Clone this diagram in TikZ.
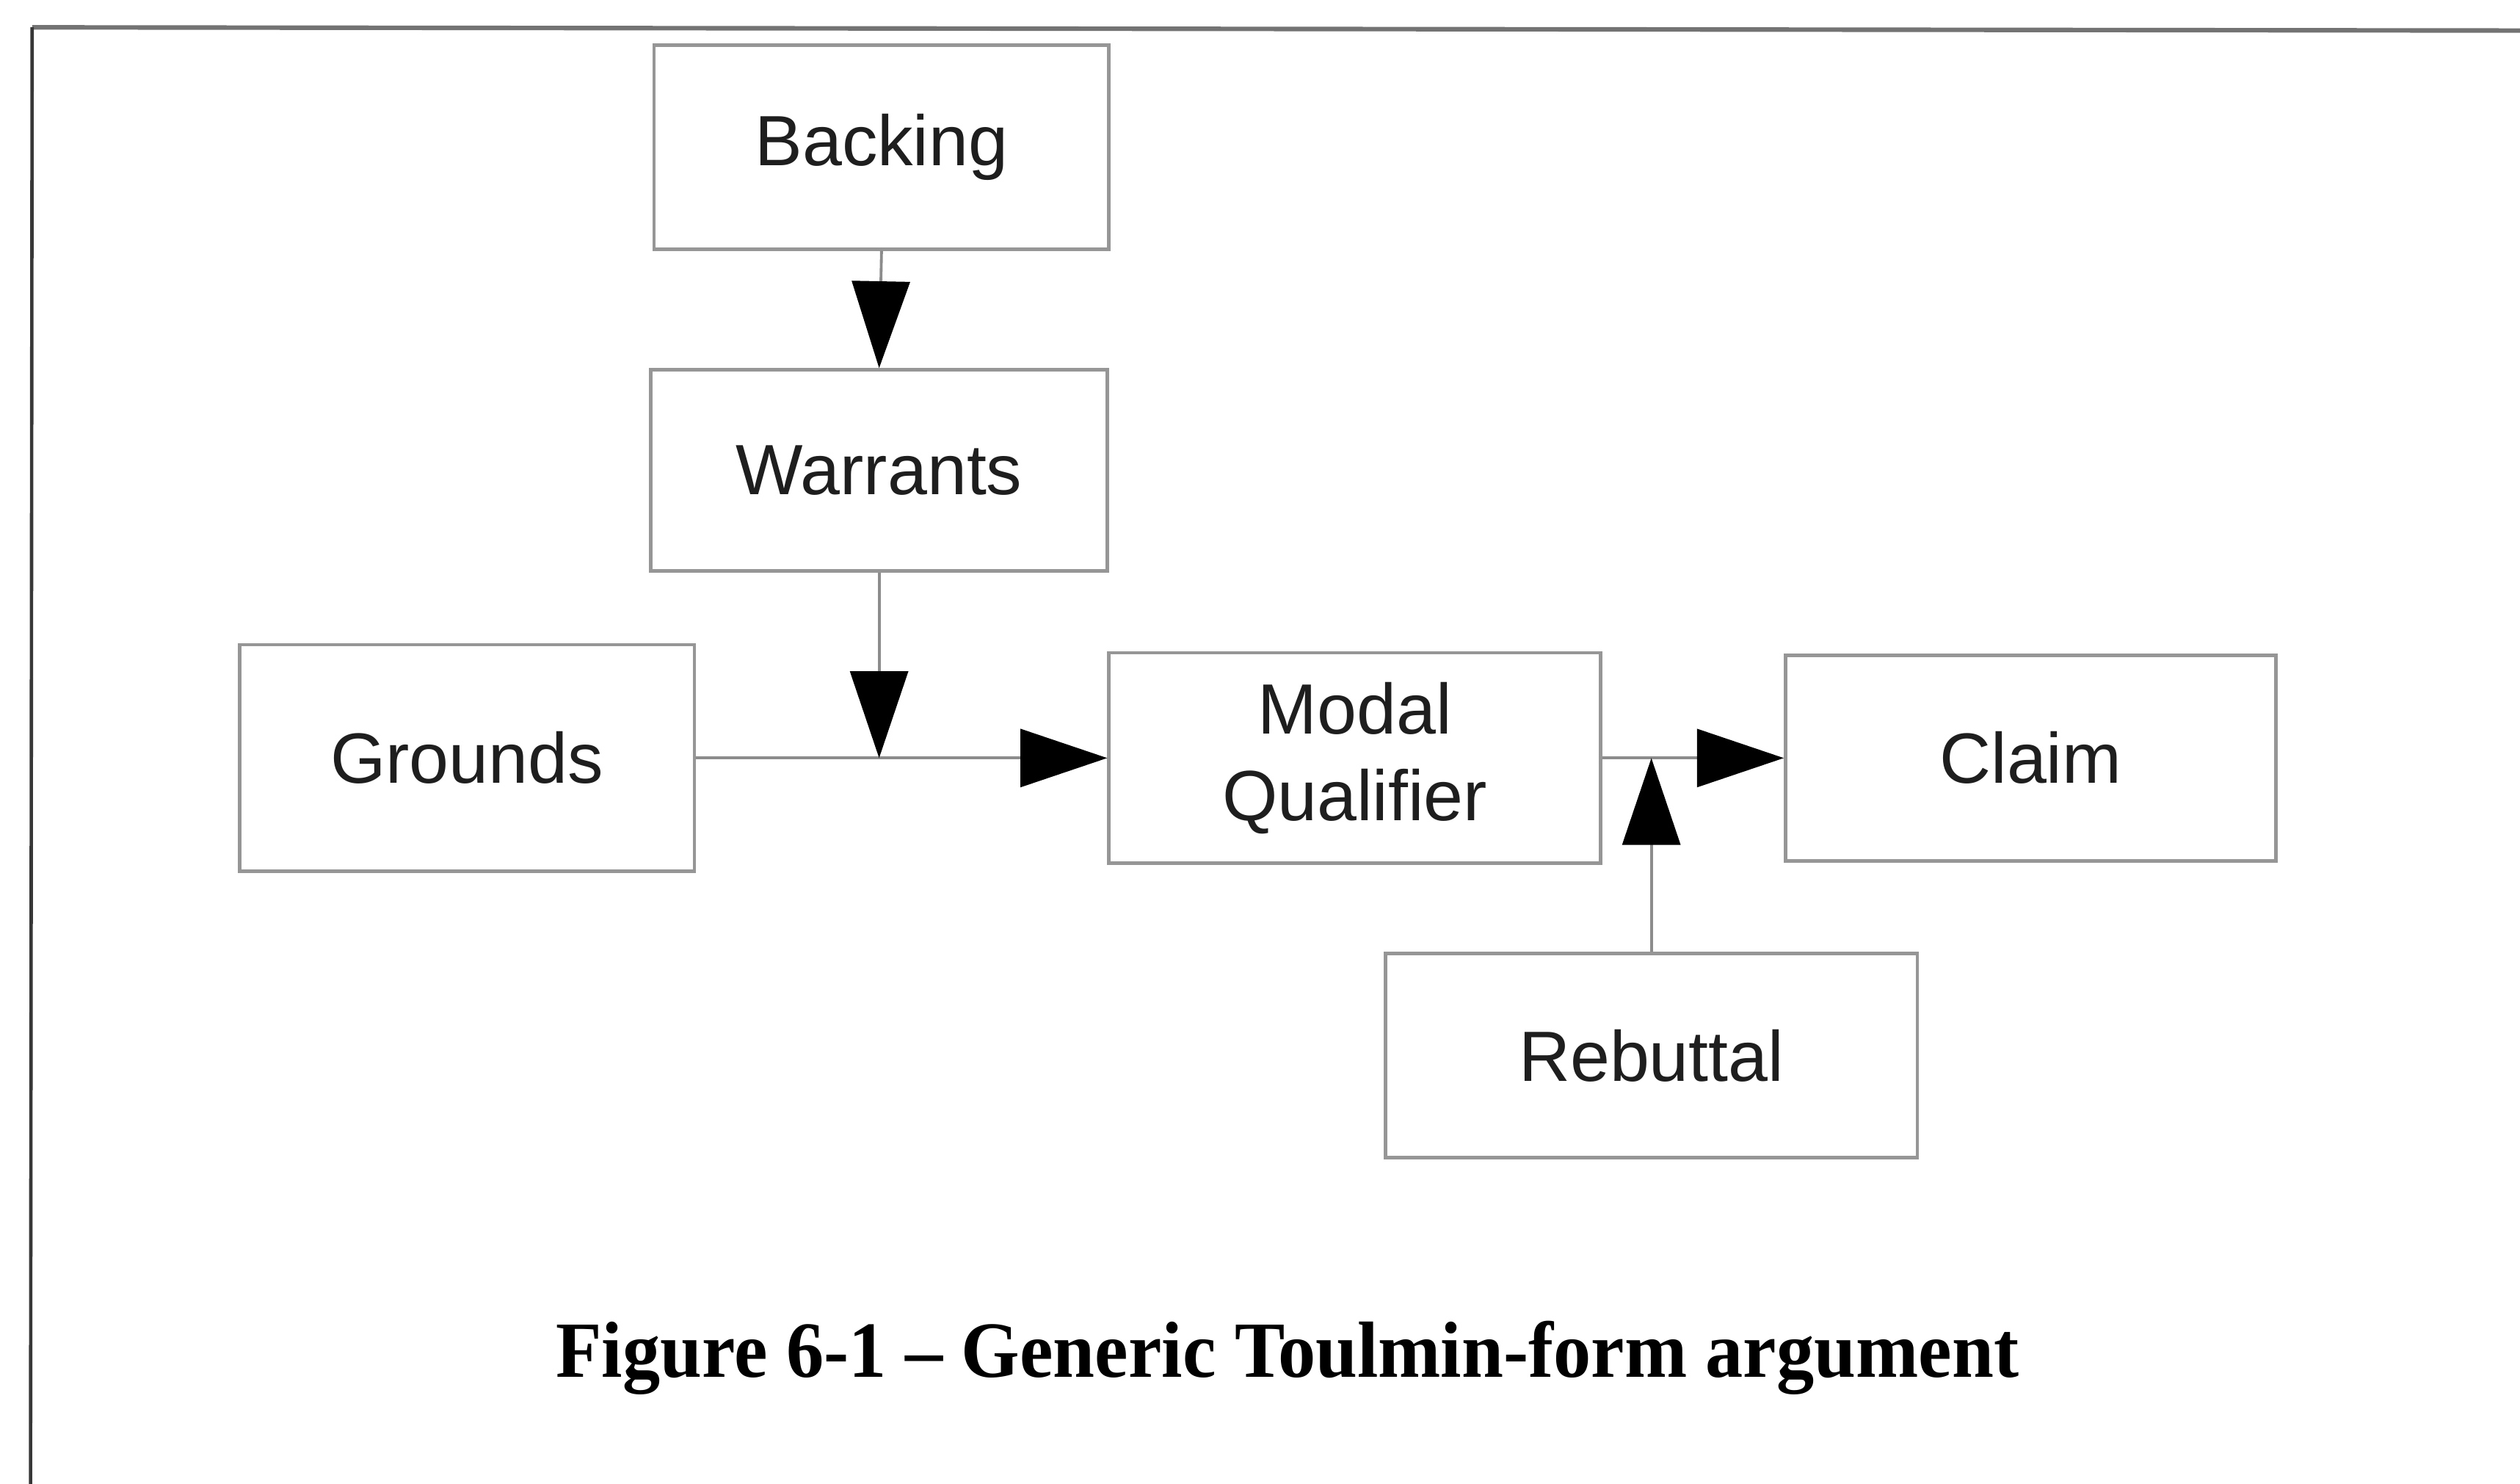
\documentclass[tikz,border=0pt]{standalone}
\usepackage{fontspec}
\setmainfont{Liberation Serif}
\newfontfamily\boxfont{Liberation Sans}
\usetikzlibrary{arrows.meta}
\definecolor{boxline}{RGB}{150,150,150}
\definecolor{connline}{RGB}{140,140,140}
\definecolor{frametop}{RGB}{115,115,115}
\definecolor{frameleft}{RGB}{55,55,55}
\definecolor{txt}{RGB}{30,30,30}
\tikzset{
  tbox/.style={draw=boxline, line width=0.6pt, rectangle, inner sep=0pt, align=center,
    font=\boxfont\fontsize{12.6}{15.4}\selectfont, text=txt},
  conn/.style={draw=connline, line width=0.5pt},
  arr/.style={conn, -{Triangle[length=5.4mm,width=3.6mm,color=black]}}
}
\begin{document}
\begin{tikzpicture}
\useasboundingbox (0,0) rectangle (15.68,-9.23);
\fill[white] (0,0) rectangle (15.68,-9.23);
% frame
\coordinate (ftl) at (0.20,-0.17);
\coordinate (ftr) at (15.68,-0.19);
\coordinate (fbl) at (0.19,-9.23);
\draw[frametop, line width=0.8pt] (ftl) -- (ftr);
\draw[frameleft, line width=0.6pt] (ftl) -- (fbl);
% boxes
\node[tbox, minimum width=2.83cm, minimum height=1.27cm] (back) at (5.485,-0.915) {Backing};
\node[tbox, minimum width=2.84cm, minimum height=1.25cm] (warr) at (5.47,-2.925) {Warrants};
\node[tbox, minimum width=2.83cm, minimum height=1.41cm] (grnd) at (2.905,-4.715) {Grounds};
\node[tbox, minimum width=3.06cm, minimum height=1.31cm] (modal) at (8.43,-4.715) {Modal\\Qualifier};
\node[tbox, minimum width=3.05cm, minimum height=1.28cm] (claim) at (12.635,-4.715) {Claim};
\node[tbox, minimum width=3.31cm, minimum height=1.27cm] (reb) at (10.275,-6.565) {Rebuttal};
% junctions
\coordinate (j1) at (warr.south |- grnd.east);
\coordinate (j2) at (reb.north |- modal.east);
% connectors
\draw[arr] (back.south) -- (warr.north);
\draw[conn] (grnd.east) -- (j1);
\draw[arr] (j1) -- (modal.west);
\draw[arr] (warr.south) -- (j1);
\draw[conn] (modal.east) -- (j2);
\draw[arr] (j2) -- (claim.west);
\draw[arr] (reb.north) -- (j2);
% caption
\node[anchor=base, inner sep=0pt, text=black, font=\bfseries\fontsize{13.3}{16}\selectfont] (cap) at (8.01,-8.565) {\scalebox{1}[1.06]{Figure 6-1 – Generic Toulmin-form argument}};
\end{tikzpicture}
\end{document}
